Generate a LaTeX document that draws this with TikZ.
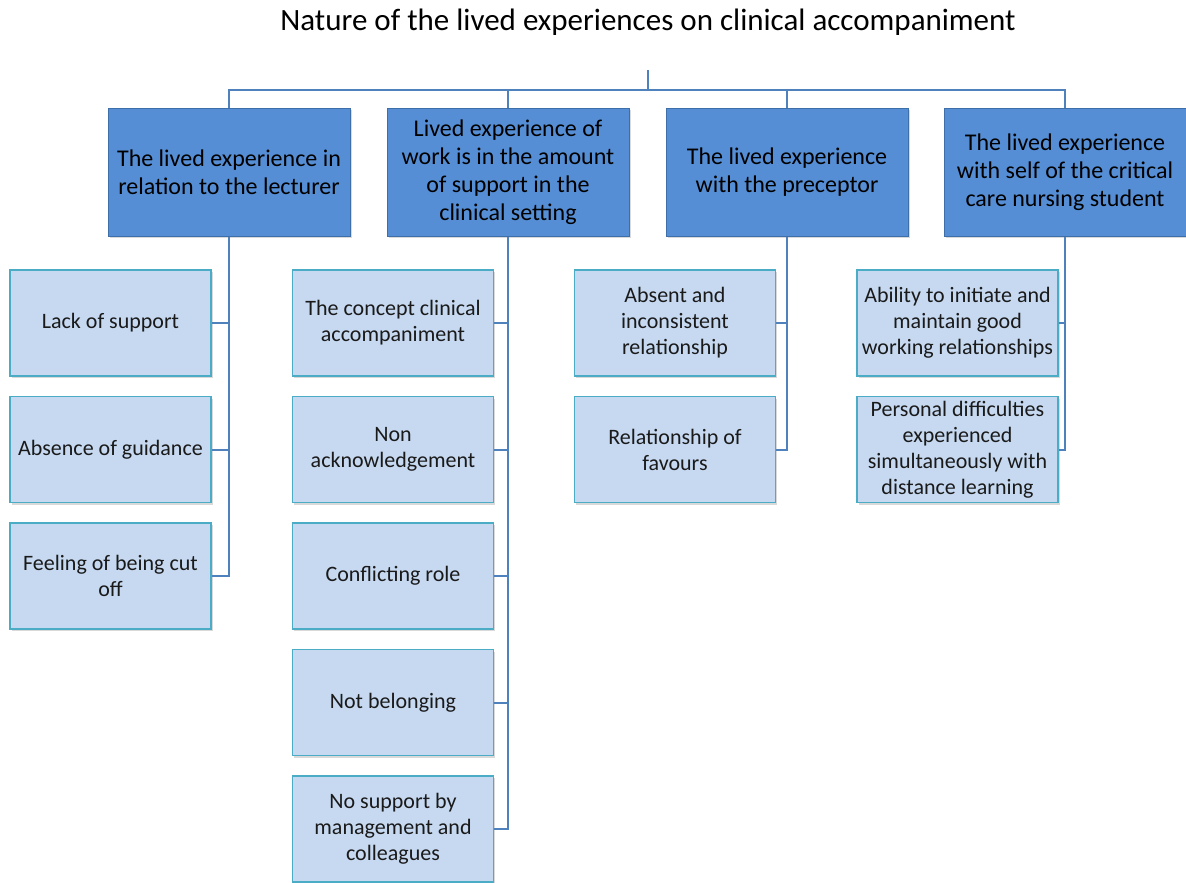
\documentclass[tikz,border=0pt]{standalone}
\usepackage{fontspec}
\setmainfont{Carlito}
\usetikzlibrary{shadows}
\definecolor{topfill}{HTML}{558ED5}
\definecolor{topdraw}{HTML}{3F6FA8}
\definecolor{subfill}{HTML}{C6D9F1}
\definecolor{subdraw}{HTML}{4BACC6}
\definecolor{linecol}{HTML}{4F81BD}
\definecolor{txt}{HTML}{1A1A1A}
\tikzset{
  topbox/.style={draw=topdraw, line width=1pt, fill=topfill, minimum width=242pt, minimum height=128pt,
    inner sep=0pt, align=center, text=black, font=\fontsize{24}{28}\selectfont,
    drop shadow={shadow xshift=1.5pt, shadow yshift=-2pt, opacity=0.3}},
  subbox/.style={draw=subdraw, line width=1.5pt, fill=subfill, minimum width=201pt, minimum height=106pt,
    inner sep=0pt, align=center, text=txt, font=\fontsize{22}{26}\selectfont,
    drop shadow={shadow xshift=1.5pt, shadow yshift=-2pt, opacity=0.3}},
  conn/.style={draw=linecol, line width=2pt},
}
\begin{document}
\begin{tikzpicture}[x=1pt,y=-1pt]
\useasboundingbox (0,0) rectangle (1186,883);
\node[font=\fontsize{31}{34}\selectfont, text=black] (title) at (648,22) {Nature of the lived experiences on clinical accompaniment};

\coordinate (root) at (648,70);
\coordinate (bar) at (648,91);

\node[topbox] (t1) at (229,172) {The lived experience in\\relation to the lecturer};
\node[topbox] (t2) at (508,172) {Lived experience of\\work is in the amount\\of support in the\\clinical setting};
\node[topbox] (t3) at (787,172) {The lived experience\\with the preceptor};
\node[topbox] (t4) at (1065,172) {The lived experience\\with self of the critical\\care nursing student};

\draw[conn] (root) -- (bar);
\draw[conn] (t1.north) -- ++(0,-18) -| (t4.north);
\draw[conn] (t2.north) -- ++(0,-18);
\draw[conn] (t3.north) -- ++(0,-18);

% column 1
\node[subbox] (a1) at (110.5,323) {Lack of support};
\node[subbox] (a2) at (110.5,449.5) {Absence of guidance};
\node[subbox] (a3) at (110.5,576) {Feeling of being cut\\off};
% column 2
\node[subbox] (b1) at (393,323) {The concept clinical\\accompaniment};
\node[subbox] (b2) at (393,449.5) {Non\\acknowledgement};
\node[subbox] (b3) at (393,576) {Conflicting role};
\node[subbox] (b4) at (393,702.5) {Not belonging};
\node[subbox] (b5) at (393,829) {No support by\\management and\\colleagues};
% column 3
\node[subbox] (c1) at (675,323) {Absent and\\inconsistent\\relationship};
\node[subbox] (c2) at (675,449.5) {Relationship of\\favours};
% column 4
\node[subbox] (d1) at (957.5,323) {Ability to initiate and\\maintain good\\working relationships};
\node[subbox] (d2) at (957.5,449.5) {Personal difficulties\\experienced\\simultaneously with\\distance learning};

\draw[conn] (t1.south) |- (a3.east);
\draw[conn] (a1.east) -- (a1.east -| t1.south);
\draw[conn] (a2.east) -- (a2.east -| t1.south);

\draw[conn] (t2.south) |- (b5.east);
\foreach \n in {b1,b2,b3,b4} \draw[conn] (\n.east) -- (\n.east -| t2.south);

\draw[conn] (t3.south) |- (c2.east);
\draw[conn] (c1.east) -- (c1.east -| t3.south);

\draw[conn] (t4.south) |- (d2.east);
\draw[conn] (d1.east) -- (d1.east -| t4.south);
\end{tikzpicture}
\end{document}
